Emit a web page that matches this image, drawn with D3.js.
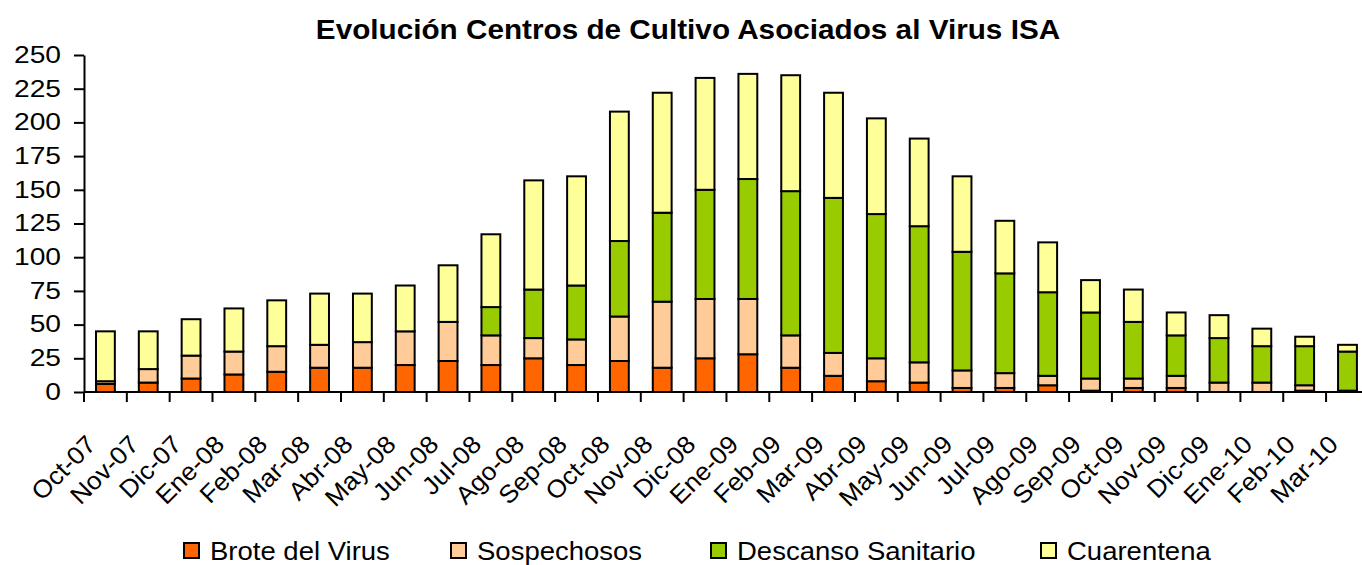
<!DOCTYPE html>
<html>
<head>
<meta charset="utf-8">
<script src="https://cdn.jsdelivr.net/npm/d3@7"></script>
<style>
  html, body { margin: 0; padding: 0; background: #fff; }
  svg { display: block; font-family: "Liberation Sans", Arial, sans-serif; }
</style>
</head>
<body>
<svg id="chart" width="1362" height="565"></svg>
<script>
const months = ['Oct-07', 'Nov-07', 'Dic-07', 'Ene-08', 'Feb-08', 'Mar-08', 'Abr-08', 'May-08', 'Jun-08',
  'Jul-08', 'Ago-08', 'Sep-08', 'Oct-08', 'Nov-08', 'Dic-08', 'Ene-09', 'Feb-09', 'Mar-09', 'Abr-09',
  'May-09', 'Jun-09', 'Jul-09', 'Ago-09', 'Sep-09', 'Oct-09', 'Nov-09', 'Dic-09', 'Ene-10', 'Feb-10', 'Mar-10']
const brote = [6, 7, 10, 13, 15, 18, 18, 20, 23, 20, 25, 20, 23, 18, 25, 28, 18, 12, 8, 7, 3, 3, 5, 1, 3, 3, 0, 0, 1, 0]
const sospechosos = [2, 10, 17, 17, 19, 17, 19, 25, 29, 22, 15, 19, 33, 49, 44, 41, 24, 17, 17, 15, 13, 11, 7, 9, 7, 9, 7, 7, 4, 1]
const descanso = [0, 0, 0, 0, 0, 0, 0, 0, 0, 21, 36, 40, 56, 66, 81, 89, 107, 115, 107, 101, 88, 74, 62, 49, 42, 30, 33, 27, 29, 29]
const cuarentena = [37, 28, 27, 32, 34, 38, 36, 34, 42, 54, 81, 81, 96, 89, 83, 78, 86, 78, 71, 65, 56, 39, 37, 24, 24, 17, 17, 13, 7, 5]
const yTicks = [0, 25, 50, 75, 100, 125, 150, 175, 200, 225, 250]

const seriesNames = ['Brote del Virus', 'Sospechosos', 'Descanso Sanitario', 'Cuarentena']
const seriesColors = ['#ff6600', '#ffcc99', '#99cc00', '#ffff99']

// build rows for d3.stack
const rows = months.map((m, i) => ({
  month: m,
  'Brote del Virus': brote[i],
  'Sospechosos': sospechosos[i],
  'Descanso Sanitario': descanso[i],
  'Cuarentena': cuarentena[i],
}))

const svg = d3.select('#chart')
const plotLeft = 84
const plotBottom = 392
const plotTop = 55
const band = 42.83

// stretch text horizontally (the original is slightly wide)
function stretch (sel, k) {
  sel.each(function () {
    const w = this.getComputedTextLength()
    d3.select(this).attr('textLength', w * k).attr('lengthAdjust', 'spacingAndGlyphs')
  })
}

const x = d3.scaleBand().domain(months).range([plotLeft, plotLeft + band * months.length]).padding(0)
const y = d3.scaleLinear().domain([0, 250]).range([plotBottom, plotTop])
const color = d3.scaleOrdinal().domain(seriesNames).range(seriesColors)

const stacked = d3.stack().keys(seriesNames)(rows)
const barW = x.bandwidth() * 0.44

// bars
const layers = svg.append('g').attr('class', 'bars')
  .selectAll('g').data(stacked).join('g')
  .attr('fill', d => color(d.key))

layers.selectAll('rect')
  .data(d => d.filter(p => p[1] - p[0] > 0))
  .join('rect')
  .attr('x', d => x(d.data.month) + (x.bandwidth() - barW) / 2)
  .attr('y', d => y(d[1]))
  .attr('width', barW)
  .attr('height', d => y(d[0]) - y(d[1]))
  .attr('stroke', '#000')
  .attr('stroke-width', 2)

// y axis
const yAxis = svg.append('g')
  .attr('transform', `translate(${plotLeft},0)`)
  .call(d3.axisLeft(y).tickValues(yTicks).tickSize(10).tickPadding(13).tickSizeOuter(0))
yAxis.select('.domain').attr('stroke', '#000').attr('stroke-width', 2)
yAxis.selectAll('.tick line').attr('stroke', '#000').attr('stroke-width', 2)
yAxis.selectAll('.tick text')
  .attr('font-family', '"Liberation Sans", Arial, sans-serif')
  .attr('font-size', 24.5)
  .attr('fill', '#000')
  .attr('dy', '0.3em')
  .call(stretch, 1.15)

// x axis
const xAxis = svg.append('g')
xAxis.append('line')
  .attr('x1', plotLeft).attr('x2', 1362)
  .attr('y1', plotBottom).attr('y2', plotBottom)
  .attr('stroke', '#000').attr('stroke-width', 2)
xAxis.selectAll('line.tick').data(months).join('line')
  .attr('class', 'tick')
  .attr('x1', d => x(d)).attr('x2', d => x(d))
  .attr('y1', plotBottom).attr('y2', plotBottom + 10)
  .attr('stroke', '#000').attr('stroke-width', 2)
xAxis.selectAll('text').data(months).join('text')
  .attr('transform', d => `translate(${x(d) + x.bandwidth() / 2 - 8},446) rotate(-45)`)
  .attr('text-anchor', 'end')
  .attr('font-size', 25)
  .attr('fill', '#000')
  .text(d => d)
  .call(stretch, 1.05)

// title
svg.append('text')
  .attr('x', 688).attr('y', 39)
  .attr('text-anchor', 'middle')
  .attr('font-size', 27)
  .attr('font-weight', 'bold')
  .text('Evolución Centros de Cultivo Asociados al Virus ISA')
  .call(stretch, 1.1)

// legend
const legendX = [183, 450, 710, 1040]
const legend = svg.append('g').selectAll('g').data(seriesNames).join('g')
  .attr('transform', (d, i) => `translate(${legendX[i]},0)`)
legend.append('rect')
  .attr('x', 1).attr('y', 543).attr('width', 15).attr('height', 15)
  .attr('fill', d => color(d))
  .attr('stroke', '#000').attr('stroke-width', 2)
legend.append('text')
  .attr('x', 27).attr('y', 560)
  .attr('font-size', 25)
  .attr('fill', '#000')
  .text(d => d)
  .call(stretch, 1.1)
</script>
</body>
</html>
